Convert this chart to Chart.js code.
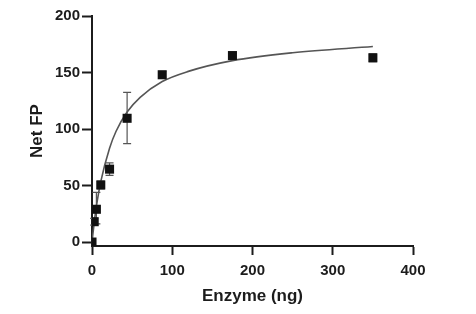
<!DOCTYPE html>
<html>
<head>
<meta charset="utf-8">
<script src="https://cdn.jsdelivr.net/npm/chart.js@4/dist/chart.umd.min.js"></script>
<style>
html,body{margin:0;padding:0;background:#fff;}
#wrap{width:476px;height:314px;position:relative;}
</style>
</head>
<body>
<div id="wrap"><canvas id="c" width="476" height="314"></canvas></div>
<script>
// Measured points (Enzyme ng vs Net FP)
const enzymeNg   = [0, 2.73, 5.47, 10.94, 21.88, 43.75, 87.5, 175, 350];
const netFP      = [0, 18, 29, 50.5, 64.5, 109.5, 148, 165, 163];
const errLow     = [0, 15, 16, 47, 59, 87, 145, 163, 159.5];
const errHigh    = [0, 21, 44, 54, 70, 132.5, 151, 167, 166.5];
// Fitted curve
const curveX     = [0, 2.73, 5.47, 10.94, 21.88, 30, 43.75, 60, 87.5, 120, 175, 250, 350];
const curveY     = [0, 17, 31.5, 53.5, 83, 98, 115, 128, 142, 151, 160.5, 167.5, 173];
const xTicks     = [0, 100, 200, 300, 400];
const yTicks     = [0, 50, 100, 150, 200];

const ink = '#1c1c1c';
const tickFont = {family: 'Liberation Sans', weight: 'bold', size: 15};
const titleFont = {family: 'Liberation Sans', weight: 'bold', size: 17};

const errorBars = {
  id: 'errorBars',
  beforeDatasetsDraw(chart) {
    const {ctx, scales: {x, y}} = chart;
    ctx.save();
    ctx.strokeStyle = '#555';
    ctx.lineWidth = 1.2;
    for (let i = 0; i < enzymeNg.length; i++) {
      if (errHigh[i] - errLow[i] < 1) continue;
      const px = x.getPixelForValue(enzymeNg[i]);
      const pl = y.getPixelForValue(errLow[i]);
      const ph = y.getPixelForValue(errHigh[i]);
      const cap = 4;
      ctx.beginPath();
      ctx.moveTo(px, pl); ctx.lineTo(px, ph);
      ctx.moveTo(px - cap, pl); ctx.lineTo(px + cap, pl);
      ctx.moveTo(px - cap, ph); ctx.lineTo(px + cap, ph);
      ctx.stroke();
    }
    ctx.restore();
  }
};

new Chart(document.getElementById('c'), {
  type: 'scatter',
  data: {
    datasets: [
      {
        data: curveX.map((v, i) => ({x: v, y: curveY[i]})),
        showLine: true,
        borderColor: '#555',
        borderWidth: 1.6,
        pointRadius: 0,
        cubicInterpolationMode: 'monotone',
        fill: false,
        order: 2
      },
      {
        data: enzymeNg.map((v, i) => ({x: v, y: netFP[i]})),
        showLine: false,
        pointStyle: 'rect',
        pointRadius: 6.4,
        backgroundColor: '#111',
        borderColor: '#111',
        borderWidth: 0,
        order: 1
      }
    ]
  },
  options: {
    responsive: false,
    animation: false,
    devicePixelRatio: 1,
    layout: {padding: {top: 16, right: 63, left: 0, bottom: 0}},
    plugins: {legend: {display: false}, tooltip: {enabled: false}},
    scales: {
      x: {
        type: 'linear',
        min: 0, max: 400,
        afterBuildTicks: s => { s.ticks = xTicks.map(v => ({value: v})); },
        afterFit: s => { s.height = 68; },
        grid: {display: true, drawOnChartArea: false, drawTicks: true, tickLength: 9, tickWidth: 2, tickColor: ink},
        border: {display: true, color: ink, width: 2},
        ticks: {color: ink, font: tickFont, padding: 7, maxRotation: 0},
        title: {display: true, text: 'Enzyme (ng)', color: ink, font: titleFont, padding: {top: 0, bottom: 7}}
      },
      y: {
        type: 'linear',
        min: -3.5, max: 200,
        afterBuildTicks: s => { s.ticks = yTicks.map(v => ({value: v})); },
        afterFit: s => { s.width = 92; },
        grid: {display: true, drawOnChartArea: false, drawTicks: true, tickLength: 10, tickWidth: 2, tickColor: ink},
        border: {display: true, color: ink, width: 2},
        ticks: {color: ink, font: tickFont, padding: 2},
        title: {display: true, text: 'Net FP', color: ink, font: titleFont, padding: {top: 27, bottom: 0}}
      }
    }
  },
  plugins: [errorBars]
});
</script>
</body>
</html>
